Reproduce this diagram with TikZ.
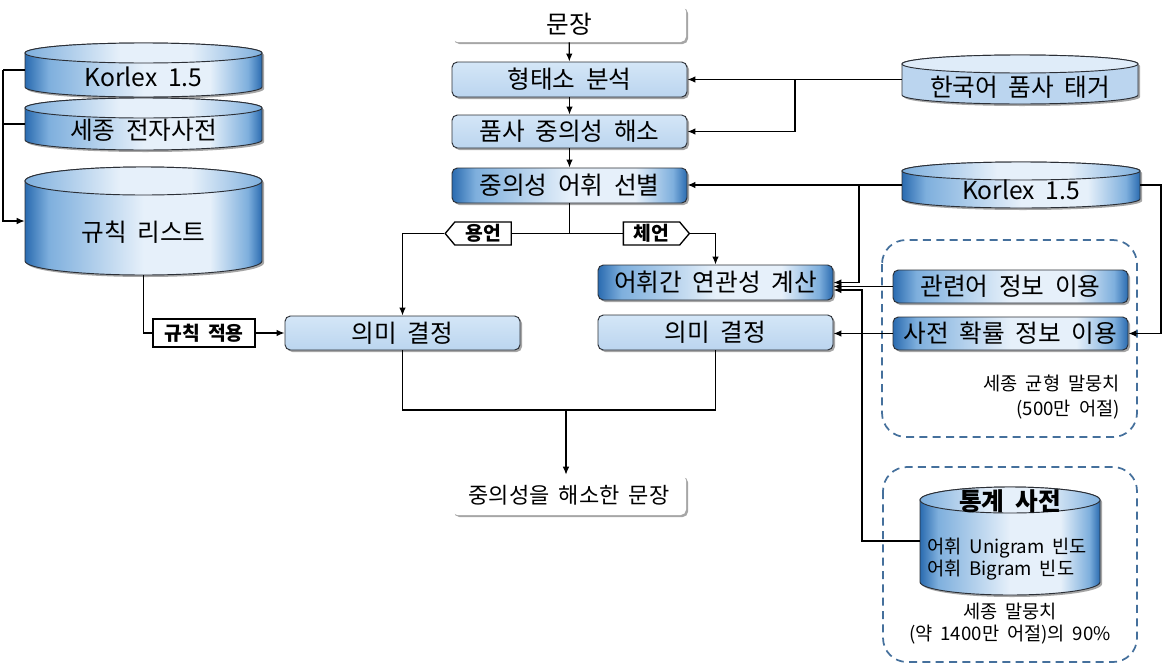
\documentclass[tikz,border=0pt]{standalone}
\usepackage{fontspec}
\setmainfont[WordSpace=1.9]{Noto Sans CJK KR}
\usetikzlibrary{shapes.symbols,shadows,arrows.meta,calc}
\definecolor{bord}{HTML}{2B2F36}
\definecolor{darkb}{HTML}{2A6BB0}
\definecolor{midb}{HTML}{7EAFDD}
\definecolor{lightb}{HTML}{E6F0FA}
\definecolor{boxtop}{HTML}{D4E6F7}
\definecolor{boxbot}{HTML}{BBD5EF}
\definecolor{dashc}{HTML}{45709C}
\pgfdeclarehorizontalshading{hbar}{100bp}{color(0bp)=(darkb); color(25bp)=(darkb); color(30bp)=(midb); color(50bp)=(lightb); color(64bp)=(lightb); color(72bp)=(midb); color(75bp)=(darkb); color(100bp)=(darkb)}
\pgfdeclarehorizontalshading{hcap}{100bp}{color(0bp)=(midb); color(25bp)=(midb); color(45bp)=(lightb); color(60bp)=(lightb); color(75bp)=(midb); color(100bp)=(midb)}
% cylinder: name, x1, y1, x2, y2, ry, body style, cap style
\newcommand{\dbcyl}[8]{%
  \path[#7] (#2,#3+#6) -- (#2,#5-#6) arc[start angle=180,end angle=0,x radius={(#4-#2)/2},y radius=#6] -- (#4,#3+#6) arc[start angle=0,end angle=-180,x radius={(#4-#2)/2},y radius=#6] -- cycle;
  \path[#8] ({(#2+#4)/2},#3+#6) ellipse[x radius={(#4-#2)/2},y radius=#6];
  \node[inner sep=0pt, minimum width={(#4-#2)*0.75pt}, minimum height={(#5-#3)*0.75pt}] (#1) at ({(#2+#4)/2},{(#3+#5)/2}) {};
}
\begin{document}
\begin{tikzpicture}[x=0.75pt,y=-0.75pt,font=\fontsize{18.5}{21}\selectfont,
  shd/.style={drop shadow={shadow xshift=1.5pt,shadow yshift=-1.5pt,opacity=.35,fill=black}},
  bxbase/.style={rounded corners=4pt,draw=bord,line width=0.7pt,inner sep=0pt,minimum width=176.25pt,minimum height=26.25pt,shd},
  bxlight/.style={bxbase,top color=boxtop,bottom color=boxbot},
  bxdark/.style={bxbase,shade,shading=hbar},
  bxplain/.style={rounded corners=4pt,fill=white,inner sep=0pt,minimum width=175.5pt,minimum height=27pt,shd},
  cylbody/.style={draw=bord,line width=0.7pt,shade,shading=hbar,shd},
  cylcap/.style={draw=bord,line width=0.7pt,shade,shading=hcap},
  cylbodylt/.style={draw=bord,line width=0.7pt,fill=boxbot,shd},
  cylcaplt/.style={draw=bord,line width=0.7pt,fill=lightb!60!boxtop},
  arr/.style={line width=1pt,-{Latex[length=6pt,width=5pt]}},
  ln/.style={line width=1pt},
  tagbox/.style={draw=black,fill=white,line width=1pt,font=\fontsize{14.5}{16}\selectfont\bfseries},
  dashbox/.style={draw=dashc,line width=1.3pt,dash pattern=on 6pt off 4pt,rounded corners=18pt},
  txsmall/.style={font=\fontsize{14}{17}\selectfont,inner sep=0pt}]
\useasboundingbox (0,0) rectangle (1163,664);

% dashed groups
\draw[dashbox] (882,240) rectangle (1137,437);
\draw[dashbox] (883,467) rectangle (1137,662);

% cylinders
\dbcyl{k1}{25}{43}{262}{97}{10}{cylbody}{cylcap}
\node (k1t) at (143.5,77) {Korlex 1.5};
\dbcyl{sj}{25}{98}{262}{150}{10}{cylbody}{cylcap}
\node (sjt) at (143.5,130) {세종 전자사전};
\dbcyl{rules}{25}{167}{262}{275}{14}{cylbody}{cylcap}
\node (rulest) at (143.5,232) {규칙 리스트};
\dbcyl{tagger}{902}{55}{1138}{104}{9}{cylbodylt}{cylcaplt}
\node (taggert) at (1020,87) {한국어 품사 태거};
\dbcyl{kor2}{902}{162}{1140}{208}{9}{cylbody}{cylcap}
\node (kor2t) at (1021,190) {Korlex 1.5};
\dbcyl{stat}{920}{487}{1100}{595}{13}{cylbody}{cylcap}
\node[font=\fontsize{18.5}{21}\selectfont\bfseries] (statt) at (1010,501) {통계 사전};
\node[txsmall,anchor=west,align=left,font=\fontsize{14}{16.5}\selectfont] (statl) at (927,559) {어휘 Unigram 빈도\\어휘 Bigram 빈도};

% boxes
\node[bxplain] (mun) at (569,24) {문장};
\node[bxlight] (hyung) at (569.5,79.5) {형태소 분석};
\node[bxlight,minimum height=24.75pt] (pumsa) at (569.5,131.5) {품사 중의성 해소};
\node[bxdark] (sunbyul) at (569.5,185.5) {중의성 어휘 선별};
\node[bxlight,minimum height=25.5pt] (mean1) at (402.5,333) {의미 결정};
\node[bxdark] (assoc) at (715.5,282.5) {어휘간 연관성 계산};
\node[bxlight] (mean2) at (715.5,332.5) {의미 결정};
\node[bxdark,minimum height=24.75pt] (relate) at (1010.5,286.5) {관련어 정보 이용};
\node[bxdark,minimum height=24.75pt] (prob) at (1010.5,333.5) {사전 확률 정보 이용};
\node[bxplain,minimum height=30pt,font=\fontsize{16.5}{19}\selectfont] (out) at (569,495) {중의성을 해소한 문장};

% tags
\node[tagbox,signal,signal to=west,minimum height=17.25pt,minimum width=49.5pt,inner xsep=3pt,inner ysep=0pt,signal pointer angle=100] (yong) at (483,233.5) {용언};
\node[tagbox,signal,signal to=east,minimum height=17.25pt,minimum width=49.5pt,inner xsep=3pt,inner ysep=0pt,signal pointer angle=100] (che) at (651.5,233.5) {체언};
\node[tagbox,minimum width=76.5pt,minimum height=21pt,inner sep=0pt] (apply) at (204,333) {규칙 적용};

% texts
\node[txsmall,anchor=east,align=right,font=\fontsize{14}{18.75}\selectfont] (sk1) at (1120,397) {세종 균형 말뭉치\\(500만 어절)};
\node[txsmall,align=center,font=\fontsize{14}{16.5}\selectfont] (corp) at (1010,624) {세종 말뭉치\\(약 1400만 어절)의 90\%};

% connectors: main column
\draw[arr] (mun) -- (hyung);
\draw[arr] (hyung) -- (pumsa);
\draw[arr] (pumsa) -- (sunbyul);
\coordinate (j1) at (sunbyul.south |- yong.east);
\draw[ln] (sunbyul.south) -- (j1) -- (yong.east);
\draw[ln] (j1) -- (che.west);
\draw[arr] (yong.west) -| (mean1.north);
\draw[arr] (che.east) -| (assoc.north);
\coordinate (mb) at (566,410);
\draw[ln] (mean1.south) |- (mb) -| (mean2.south);
\draw[arr] (mb) -- (mb |- out.north);

% left
\coordinate (lv) at (3,70);
\draw[ln] (k1.west) -- (lv);
\draw[ln] (sj.west) -- (sj.west -| lv);
\draw[arr] (lv) |- (rules.west);
\draw[ln] (rules.south) |- (apply.west);
\draw[arr] (apply.east) -- (mean1.west);

% tagger
\coordinate (tv) at (795,79.5);
\draw[arr] (tagger.west) -- (hyung.east);
\draw[arr] (tv) |- (pumsa.east);

% Korlex right
\draw[arr] (kor2.west) -- (sunbyul.east |- kor2.west);
\coordinate (kb) at (859,185);
\draw[arr] (kb) |- (assoc.east);
\draw[arr] (relate.west) -- (assoc.east |- relate.west);
\coordinate (y290) at (0,290);
\coordinate (sv) at (862,290);
\draw[arr] (stat.west) -| (sv) -- (assoc.east |- y290);
\draw[arr] (prob.west) -- (mean2.east |- prob.west);
\coordinate (rv) at (1161,185);
\draw[arr] (kor2.east) -- (rv) |- (prob.east);
\end{tikzpicture}
\end{document}
